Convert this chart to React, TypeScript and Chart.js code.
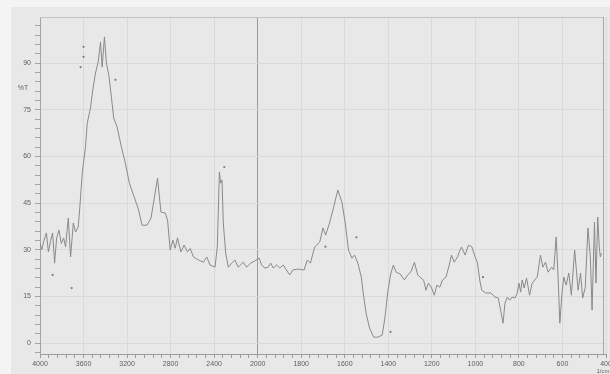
import React, { useEffect, useRef } from 'react';
import { Chart, registerables } from 'chart.js';

Chart.register(...registerables);

// IR spectrum: wavenumber (1/cm) and transmittance (%T)
const wavenumbers = [
  3998, 3984, 3963, 3941, 3923, 3902, 3884, 3866, 3847, 3826, 3804, 3783, 3765, 3740, 3719, 3694, 3673, 3649,
  3634, 3612, 3582, 3566, 3536, 3515, 3490, 3465, 3444, 3429, 3408, 3390, 3368, 3344, 3323, 3292, 3252, 3216,
  3179, 3140, 3094, 3063, 3017, 2980, 2950, 2920, 2889, 2849, 2828, 2804, 2779, 2758, 2737, 2706, 2676, 2645,
  2621, 2590, 2545, 2499, 2468, 2438, 2392, 2371, 2352, 2340, 2328, 2316, 2294, 2270, 2239, 2209, 2179, 2133,
  2102, 2065, 2026, 1993, 1982, 1967, 1952, 1940, 1929, 1913, 1898, 1883, 1868, 1853, 1838, 1815, 1787, 1772,
  1758, 1738, 1715, 1700, 1688, 1670, 1651, 1632, 1613, 1598, 1583, 1567, 1555, 1540, 1524, 1517, 1502, 1486,
  1467, 1448, 1428, 1415, 1403, 1390, 1377, 1364, 1345, 1326, 1311, 1296, 1280, 1265, 1250, 1238, 1227, 1216,
  1201, 1189, 1177, 1163, 1151, 1135, 1120, 1110, 1097, 1082, 1073, 1064, 1047, 1032, 1016, 1001, 991, 980,
  971, 952, 929, 910, 895, 884, 873, 864, 853, 842, 831, 818, 808, 800, 792, 785, 776, 765, 751, 739, 727,
  716, 701, 690, 678, 666, 650, 640, 629, 620, 612, 602, 594, 583, 571, 559, 544, 528, 517, 507, 495, 483,
  472, 464, 453, 446, 438, 431, 426, 421,
];
const transmittance = [
  32, 30, 33, 35.4, 29.3, 33, 35.4, 25.7, 33.8, 36.3, 32, 33.8, 30.9, 40.2, 27.7, 38.6, 35.7, 37.3,
  43.7, 54.7, 63, 70.7, 75.6, 81.4, 86.8, 90.4, 96.8, 88.7, 98.4, 90, 86.2, 79.1, 72.3, 69.5, 63, 57.9,
  51.4, 47.5, 42.8, 37.9, 37.9, 40.2, 46.6, 53, 42.1, 41.8, 39.5, 29.9, 33.1, 30.5, 33.8, 29.3, 31.5, 29.3,
  30.4, 27.7, 26.7, 26, 27.7, 25.1, 24.4, 30.9, 55, 51.4, 52.4, 38.6, 28.9, 24.4, 25.7, 26.7, 24.4, 26,
  24.4, 25.7, 26.4, 27.3, 25.1, 24.1, 24.4, 25.7, 24.1, 25.1, 24.1, 25.1, 23.5, 21.9, 23.5, 23.8, 23.5, 26.7,
  25.7, 30.9, 32.5, 37, 34.7, 38.6, 43.7, 49.2, 45.3, 38.6, 29.9, 27.3, 28.3, 25.7, 21.2, 17, 9.6, 4.8,
  1.9, 1.9, 2.6, 8.4, 16.1, 21.9, 25.1, 22.8, 22.2, 20.3, 21.9, 22.9, 26, 21.9, 20.9, 20.3, 17, 19.3,
  17.7, 15.4, 18.6, 18, 20.3, 21.2, 25.1, 28.3, 26, 27.7, 29.5, 30.9, 28.3, 31.5, 30.9, 27.7, 26, 20.3,
  17, 16.1, 16.1, 14.8, 14.5, 10.6, 6.4, 12.9, 14.8, 13.8, 14.8, 14.5, 16.1, 19.3, 16.4, 20.3, 17.7, 20.9, 15.4, 19.3, 20.3,
  21.2, 28.3, 24.4, 26, 22.8, 24.4, 23.5, 34.1, 21.2, 6.4, 16.1, 21.2, 18.6, 22.5, 15.4, 29.9, 17, 22.5, 14.5, 18, 37,
  27.7, 10.6, 38.9, 19.3, 40.5, 30.9, 27.7, 28.9,
];

// stray specks on the scanned chart
const speckWavenumbers = [3627, 3600, 3600, 3307, 3884, 3709, 2307, 1689, 1547, 1390, 965];
const speckTransmittance = [88.7, 95.2, 92, 84.6, 21.9, 17.7, 56.6, 31, 34, 3.6, 21.2];

const xTickLabels = ['4000', '3600', '3200', '2800', '2400', '2000', '1800', '1600', '1400', '1200', '1000', '800', '600', '400'];
const yTickLabels = ['0', '15', '30', '45', '60', '75', '90'];

// piecewise scale: 4000-2000 at 400 per division, 2000-400 at 200 per division
const toU = (wn: number) => (wn >= 2000 ? (4000 - wn) / 400 : 5 + (2000 - wn) / 200);

const FONT = { family: "'Liberation Sans', Arial, sans-serif", size: 7 };

export default function App() {
  const ref = useRef<HTMLCanvasElement>(null);

  useEffect(() => {
    const canvas = ref.current!;
    const framePlugin = {
      id: 'frame',
      beforeDraw(chart: any) {
        const c = chart.ctx;
        c.save();
        c.fillStyle = '#f4f4f4';
        c.fillRect(0, 0, chart.width, chart.height);
        c.fillStyle = '#e8e8e8';
        c.fillRect(11, 7, chart.width - 11, chart.height - 7);
        c.restore();
      },
      afterDraw(chart: any) {
        const c = chart.ctx;
        const a = chart.chartArea;
        const xs = chart.scales.x;
        const ys = chart.scales.y;
        const right = Math.round(xs.getPixelForValue(12.93)) + 0.5;
        c.save();
        c.strokeStyle = '#c4c4c4';
        c.lineWidth = 1;
        c.beginPath();
        c.moveTo(a.left, a.top + 0.5);
        c.lineTo(right, a.top + 0.5);
        c.stroke();
        c.strokeStyle = '#a8a8a8';
        c.beginPath();
        c.moveTo(right, a.top);
        c.lineTo(right, a.bottom);
        c.stroke();
        c.fillStyle = '#666';
        c.font = "7px 'Liberation Sans', Arial, sans-serif";
        c.textAlign = 'center';
        c.textBaseline = 'middle';
        c.fillText('%T', 23, ys.getPixelForValue(82));
        c.font = "6px 'Liberation Sans', Arial, sans-serif";
        c.fillText('1/cm', 603, 371);
        c.restore();
      },
    };

    const chart = new Chart(canvas, {
      type: 'line',
      data: {
        datasets: [
          {
            data: wavenumbers.map((w, i) => ({ x: toU(w), y: transmittance[i] })),
            borderColor: '#8a8a8a',
            borderWidth: 1,
            pointRadius: 0,
            tension: 0,
            fill: false,
          },
          {
            type: 'scatter',
            data: speckWavenumbers.map((w, i) => ({ x: toU(w), y: speckTransmittance[i] })),
            pointRadius: 1.1,
            pointBackgroundColor: '#7c7c7c',
            pointBorderWidth: 0,
            showLine: false,
          } as any,
        ],
      },
      options: {
        animation: false,
        responsive: false,
        maintainAspectRatio: false,
        events: [],
        plugins: { legend: { display: false }, tooltip: { enabled: false } },
        layout: { padding: { top: 17, right: 3, left: 0, bottom: 0 } },
        scales: {
          x: {
            type: 'linear',
            min: 0,
            max: 13,
            afterBuildTicks: (axis: any) => {
              axis.ticks = Array.from({ length: 66 }, (_, i) => ({ value: i / 5 }));
            },
            afterFit: (s: any) => {
              s.height = 20;
              s.paddingLeft = 0;
              s.paddingRight = 0;
            },
            border: { display: true, color: '#9c9c9c', width: 1 },
            grid: {
              drawOnChartArea: true,
              tickLength: 4,
              tickColor: '#9c9c9c',
              color: (ctx: any) => {
                const v = ctx.tick ? ctx.tick.value : -1;
                const r = Math.round(v * 5);
                if (r % 5 !== 0) return 'rgba(0,0,0,0)';
                if (r === 25) return '#9a9a9a';
                return '#dadada';
              },
            },
            ticks: {
              autoSkip: false,
              maxRotation: 0,
              minRotation: 0,
              padding: 2,
              color: '#5e5e5e',
              font: FONT,
              callback: (_v: any, index: number) => (index % 5 === 0 ? xTickLabels[index / 5] : ''),
            },
          },
          y: {
            type: 'linear',
            min: -3.5,
            max: 104.8,
            afterBuildTicks: (axis: any) => {
              axis.ticks = Array.from({ length: 36 }, (_, i) => ({ value: (i - 1) * 3 }));
            },
            afterFit: (s: any) => {
              s.width = 40;
              s.paddingTop = 0;
              s.paddingBottom = 0;
            },
            border: { display: true, color: '#a4a4a4', width: 1 },
            grid: {
              drawOnChartArea: true,
              tickLength: 5,
              tickColor: '#a4a4a4',
              color: (ctx: any) => {
                const v = ctx.tick ? ctx.tick.value : -1;
                return v >= 0 && v % 15 === 0 ? '#dadada' : 'rgba(0,0,0,0)';
              },
            },
            ticks: {
              autoSkip: false,
              padding: 4,
              color: '#5e5e5e',
              font: FONT,
              callback: (v: any) => (v >= 0 && v % 15 === 0 ? yTickLabels[v / 15] : ''),
            },
          },
        },
      },
      plugins: [framePlugin],
    });
    return () => chart.destroy();
  }, []);

  return (
    <div style={{ position: 'fixed', left: 0, top: 0, width: 610, height: 374 }}>
      <canvas ref={ref} width={610} height={374} style={{ display: 'block', width: 610, height: 374 }} />
    </div>
  );
}
